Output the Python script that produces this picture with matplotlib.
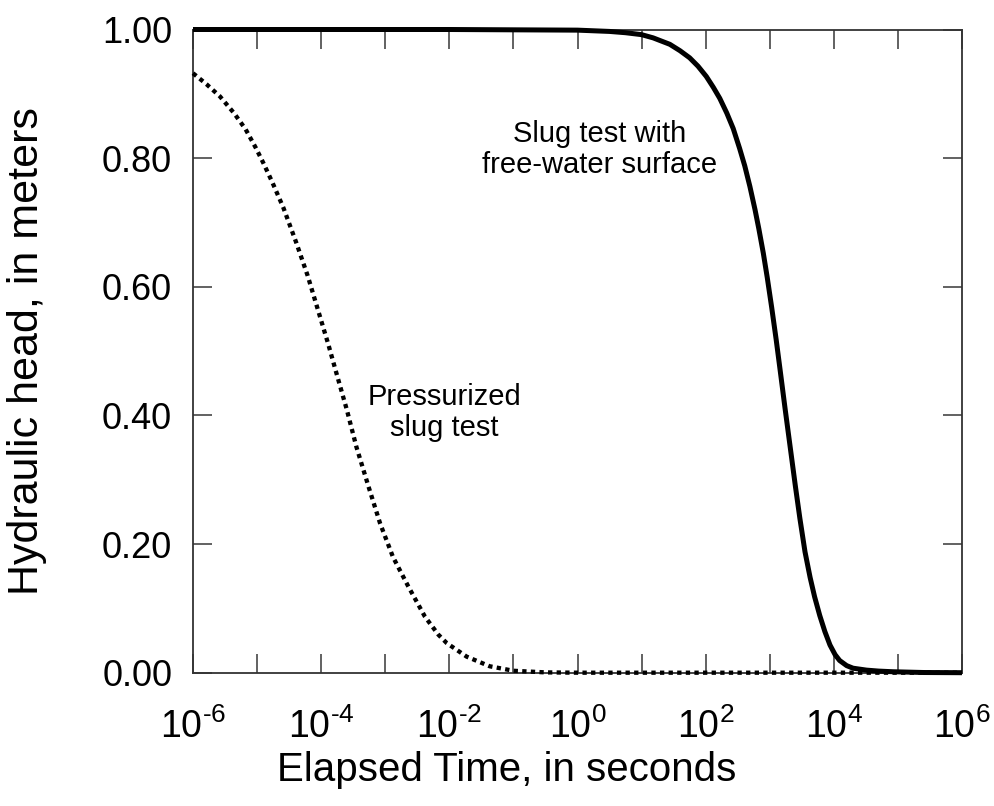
import numpy as np
import matplotlib
matplotlib.use("Agg")
import matplotlib.pyplot as plt
from matplotlib.ticker import FixedLocator, FuncFormatter, NullLocator

# ---- data ----
free_log_t = [-6.0, -2.0, 0.0, 0.5, 0.75, 1.0, 1.18, 1.44, 1.60, 1.75, 1.88, 2.01, 2.12,
              2.22, 2.33, 2.43, 2.53, 2.61, 2.69, 2.77, 2.83, 2.90, 2.96, 3.03, 3.10,
              3.16, 3.24, 3.32, 3.40, 3.47, 3.55, 3.63, 3.70, 3.78, 3.86, 3.94, 4.02,
              4.09, 4.20, 4.30, 4.51, 4.70, 4.92, 5.40, 6.0]
free_head = [1.0, 1.0, 0.999, 0.997, 0.995, 0.992, 0.987, 0.977, 0.967, 0.956, 0.943, 0.927,
             0.910, 0.893, 0.870, 0.846, 0.815, 0.788, 0.756, 0.720, 0.690, 0.652, 0.615,
             0.568, 0.518, 0.472, 0.410, 0.350, 0.290, 0.240, 0.188, 0.148, 0.118, 0.089,
             0.064, 0.043, 0.028, 0.019, 0.011, 0.007, 0.004, 0.0025, 0.0015, 0.0003, 0.0]

press_log_t = [-6.0, -5.79, -5.58, -5.36, -5.18, -5.02, -4.90, -4.76, -4.59, -4.39, -4.21,
               -4.05, -3.89, -3.76, -3.60, -3.45, -3.26, -3.08, -2.88, -2.64, -2.38,
               -2.17, -2.04, -1.73, -1.37, -1.00, -0.5, 0.0, 6.0]
press_head = [0.932, 0.915, 0.896, 0.870, 0.845, 0.816, 0.792, 0.762, 0.723, 0.669, 0.617,
              0.564, 0.511, 0.465, 0.409, 0.351, 0.289, 0.232, 0.180, 0.134, 0.087,
              0.059, 0.046, 0.025, 0.010, 0.003, 0.0005, 0.0, 0.0]

x_tick_exps = list(range(-6, 7))
x_label_exps = [-6, -4, -2, 0, 2, 4, 6]
y_ticks = [0.0, 0.2, 0.4, 0.6, 0.8, 1.0]

FONT = "Liberation Sans"
plt.rcParams["font.family"] = [FONT, "DejaVu Sans"]
plt.rcParams["mathtext.fontset"] = "custom"
plt.rcParams["mathtext.rm"] = FONT
plt.rcParams["mathtext.it"] = FONT
plt.rcParams["mathtext.default"] = "rm"

fig = plt.figure(figsize=(9.94, 8.06), dpi=100)
ax = fig.add_axes([193 / 994, 133.3 / 806, 769 / 994, 643.2 / 806])

t_free = 10.0 ** np.array(free_log_t)
t_press = 10.0 ** np.array(press_log_t)

ax.plot(t_press, press_head, color="black", lw=3.1, linestyle=(0, (1, 1)),
        dash_capstyle="butt", clip_on=False, zorder=3)
ax.plot(t_free, free_head, color="black", lw=3.6, solid_capstyle="butt",
        solid_joinstyle="round", clip_on=False, zorder=4)

ax.set_xscale("log")
ax.set_xlim(1e-6, 1e6)
ax.set_ylim(0, 1)

ax.xaxis.set_major_locator(FixedLocator([10.0 ** e for e in x_tick_exps]))
ax.xaxis.set_minor_locator(NullLocator())


def xfmt(v, pos):
    e = int(round(np.log10(v)))
    if e in x_label_exps:
        s = str(e).replace("-", "\u2010")
        return r"$10^{%s}$" % s
    return ""


ax.xaxis.set_major_formatter(FuncFormatter(xfmt))
ax.set_yticks(y_ticks)
ax.set_yticklabels(["%.2f" % v for v in y_ticks])

ax.tick_params(axis="both", which="major", direction="in", length=14, width=1.3,
               color="#555555", top=True, right=True)
ax.tick_params(axis="x", pad=26, labelsize=27)
ax.tick_params(axis="y", pad=15, labelsize=26)

for s in ax.spines.values():
    s.set_linewidth(1.3)
    s.set_color("#333333")

ax.set_xlabel("Elapsed Time, in seconds", fontsize=29)
ax.xaxis.set_label_coords(0.408, -0.122)
ax.set_ylabel("Hydraulic head, in meters", fontsize=31)
ax.yaxis.set_label_coords(-0.19, 0.5)

ax.text(10 ** 0.35, 0.813, "Slug test with\nfree-water surface", fontsize=21,
        ha="center", va="center", linespacing=1.15)
ax.text(10 ** -2.08, 0.405, "Pressurized\nslug test", fontsize=21,
        ha="center", va="center", linespacing=1.15)

fig.savefig("out.png", dpi=100)
